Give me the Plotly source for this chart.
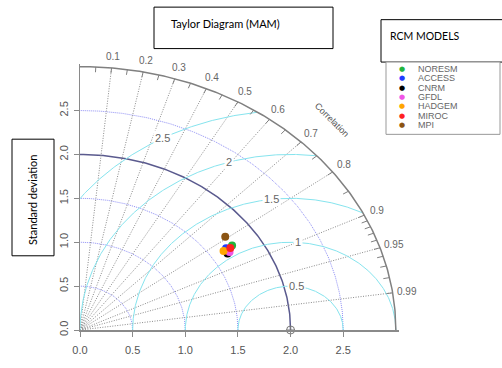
import numpy as np
import plotly.graph_objects as go

# ---------------- data ----------------
models = ["NORESM", "ACCESS", "CNRM", "GFDL", "HADGEM", "MIROC", "MPI"]
model_sd = [1.736, 1.672, 1.651, 1.675, 1.633, 1.706, 1.742]
model_corr = [0.832, 0.830, 0.849, 0.848, 0.835, 0.837, 0.792]
model_colors = ["#22b43c", "#1f3cff", "#000000", "#f055e6", "#ffa500", "#ff2020", "#8b5413"]

ref_sd = 2.0
max_sd = 3.0
sd_tick_vals = [0.0, 0.5, 1.0, 1.5, 2.0, 2.5]
sd_tick_text = ["0.0", "0.5", "1.0", "1.5", "2.0", "2.5"]
sd_arcs = [0.5, 1.0, 1.5, 2.5]
corr_lines = [0.1, 0.2, 0.3, 0.4, 0.5, 0.6, 0.7, 0.8, 0.9, 0.95, 0.99]
corr_labels = ["0.1", "0.2", "0.3", "0.4", "0.5", "0.6", "0.7", "0.8", "0.9", "0.95", "0.99"]
corr_minor = [0.05, 0.15, 0.25, 0.35, 0.45, 0.55, 0.65, 0.75, 0.85,
              0.91, 0.92, 0.93, 0.94, 0.96, 0.97, 0.98]
rms_levels = [0.5, 1.0, 1.5, 2.0, 2.5]
rms_labels = ["0.5", "1", "1.5", "2", "2.5"]

# ---------------- styles / layout constants ----------------
W, H = 502, 368
L, B = 80, 28
RNG = 3.03
PW, PH = 319, 276
R_M = W - L - PW
T_M = H - B - PH
rms_label_angle = [83, 86, 97, 107, 119]   # degrees around reference point
GRAY = "#555555"


def px(xp, yp):
    return (xp - L) / PW, (H - B - yp) / PH


fig = go.Figure()

# SD arcs (dotted blue)
th = np.linspace(0, np.pi / 2, 200)
for r in sd_arcs:
    fig.add_trace(go.Scatter(x=r * np.cos(th), y=r * np.sin(th), mode="lines",
                             line=dict(color="#8f8ff5", width=1, dash="1px,1px"),
                             hoverinfo="skip", showlegend=False))
# reference SD arc
fig.add_trace(go.Scatter(x=ref_sd * np.cos(th), y=ref_sd * np.sin(th), mode="lines",
                         line=dict(color="#5a5a8e", width=1.5),
                         hoverinfo="skip", showlegend=False))

# correlation rays
for c in corr_lines:
    a = np.arccos(c)
    fig.add_trace(go.Scatter(x=[0, max_sd * np.cos(a)], y=[0, max_sd * np.sin(a)], mode="lines",
                             line=dict(color="#8a8a8a", width=1, dash="1px,1.5px"),
                             hoverinfo="skip", showlegend=False))

# RMS arcs (cyan)
phi = np.linspace(0, np.pi, 600)
for R in rms_levels:
    xs = ref_sd + R * np.cos(phi)
    ys = R * np.sin(phi)
    m = (xs ** 2 + ys ** 2) <= max_sd ** 2 + 1e-9
    fig.add_trace(go.Scatter(x=xs[m], y=ys[m], mode="lines",
                             line=dict(color="#86e4ee", width=1),
                             hoverinfo="skip", showlegend=False))

# outer arc
fig.add_trace(go.Scatter(x=max_sd * np.cos(th), y=max_sd * np.sin(th), mode="lines",
                         line=dict(color="#808080", width=1.5),
                         hoverinfo="skip", showlegend=False, cliponaxis=False))
# ticks on outer arc
tx, ty = [], []
for c in corr_lines + corr_minor:
    a = np.arccos(c)
    tx += [max_sd * np.cos(a), (max_sd - 0.06) * np.cos(a), None]
    ty += [max_sd * np.sin(a), (max_sd - 0.06) * np.sin(a), None]
fig.add_trace(go.Scatter(x=tx, y=ty, mode="lines", line=dict(color="#808080", width=1),
                         hoverinfo="skip", showlegend=False))

# reference point
fig.add_trace(go.Scatter(x=[ref_sd], y=[0], mode="markers", cliponaxis=False,
                         marker=dict(symbol="circle-cross-open", size=8, color="#777777",
                                     line=dict(width=1)),
                         hoverinfo="skip", showlegend=False))

# models
for name, s, c, col in zip(models, model_sd, model_corr, model_colors):
    a = np.arccos(c)
    fig.add_trace(go.Scatter(x=[s * np.cos(a)], y=[s * np.sin(a)], mode="markers", name=name,
                             marker=dict(size=8, color=col), showlegend=False))

annotations = []


def note(xp_, yp_, text, size, color="#666666", family="Liberation Sans", angle=0, xanchor="center"):
    a, b = px(xp_, yp_)
    annotations.append(dict(x=a, y=b, xref="paper", yref="paper", text=text, showarrow=False,
                            xanchor=xanchor, yanchor="middle", textangle=angle,
                            font=dict(size=size, color=color, family=family)))


# RMS labels
for R, lab, ang in zip(rms_levels, rms_labels, rms_label_angle):
    a = np.radians(ang)
    annotations.append(dict(x=ref_sd + R * np.cos(a), y=R * np.sin(a), xref="x", yref="y",
                            text=lab, showarrow=False, bgcolor="white", borderpad=1,
                            xanchor="center", yanchor="middle",
                            font=dict(size=11, color="#666666", family="Liberation Sans")))
# correlation labels
for c, lab in zip(corr_lines, corr_labels):
    a = np.arccos(c)
    r = max_sd * 1.045
    annotations.append(dict(x=r * np.cos(a) / RNG, y=r * np.sin(a) / RNG, xref="paper", yref="paper",
                            text=lab, showarrow=False, xanchor="center", yanchor="middle",
                            font=dict(size=10, color="#666666", family="Liberation Sans")))
note(332, 122, "Correlation", 9, color="#555555", angle=45)

# text boxes
shapes = []


def box(x0, y0, x1, y1, color="black", width=1):
    a0, b0 = px(x0, y1)
    a1, b1 = px(x1, y0)
    shapes.append(dict(type="rect", xref="paper", yref="paper", x0=a0, y0=b0, x1=a1, y1=b1,
                       line=dict(color=color, width=width), fillcolor="white", layer="above"))


box(154, 5, 333, 48)
note(169, 22, "Taylor Diagram (MAM)", 11, color="black", family="Lato", xanchor="left")
box(381, 18, 503, 62)
note(425, 35, "RCM MODELS", 10.5, color="black", family="Lato")
box(12, 142, 54, 263)
note(33, 205, "Standard deviation", 11, color="black", family="Lato", angle=-90)

# legend box
box(386, 62, 500, 137, color="#999999")
for i, (name, col) in enumerate(zip(models, model_colors)):
    yy = 69 + i * 9.7
    note(402, yy, "●", 7, color=col, family="DejaVu Sans")
    note(416, yy, name, 9, xanchor="left")

fig.update_layout(
    width=W, height=H, margin=dict(l=L, r=R_M, t=T_M, b=B, pad=0),
    plot_bgcolor="white", paper_bgcolor="white", showlegend=False,
    annotations=annotations, shapes=shapes,
    xaxis=dict(range=[0, RNG], showgrid=False, zeroline=False, showline=True,
               linecolor="#8a8a8a", linewidth=2, tickvals=sd_tick_vals, ticktext=sd_tick_text,
               ticks="outside", ticklen=5, tickcolor="#8a8a8a", ticklabelstandoff=4,
               tickfont=dict(size=11, color=GRAY, family="Liberation Sans")),
    yaxis=dict(range=[0, RNG], showgrid=False, zeroline=False, showline=True,
               linecolor="#8a8a8a", linewidth=1, tickvals=sd_tick_vals, ticktext=sd_tick_text,
               ticks="outside", ticklen=5, tickcolor="#8a8a8a", tickangle=-90, ticklabelstandoff=2,
               tickfont=dict(size=11, color=GRAY, family="Liberation Sans")),
)

fig.write_html("out.html", config={"displayModeBar": False},
               post_script="document.body.style.margin='0';")
